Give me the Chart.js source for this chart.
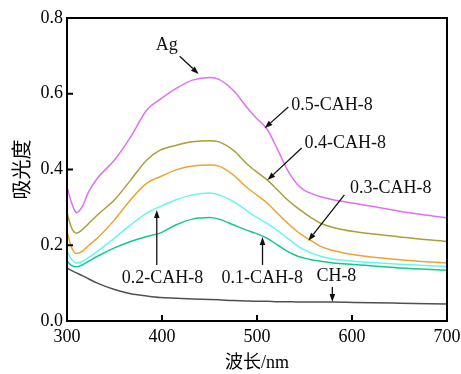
<!DOCTYPE html>
<html>
<head>
<meta charset="utf-8">
<script src="https://cdn.jsdelivr.net/npm/chart.js@4/dist/chart.umd.min.js"></script>
<style>
  html, body { margin: 0; padding: 0; background: #fff; }
  #wrap { width: 461px; height: 374px; }
</style>
</head>
<body>
<div id="wrap"><canvas id="cvs" width="461" height="374"></canvas></div>
<script>
'use strict';

// wavelength samples (nm)
const wavelengths = [300, 305, 310, 316, 323, 332, 350, 367, 384, 398, 415, 432, 450, 460, 475, 489, 498, 511, 522, 532, 543, 550, 557, 567, 580, 602, 650, 700];

// absorbance
const cah05 = [0.354, 0.311, 0.286, 0.302, 0.342, 0.377, 0.425, 0.486, 0.557, 0.585, 0.614, 0.636, 0.643, 0.638, 0.609, 0.565, 0.539, 0.505, 0.451, 0.399, 0.359, 0.345, 0.337, 0.328, 0.320, 0.311, 0.290, 0.272];
const cah04 = [0.285, 0.245, 0.232, 0.241, 0.258, 0.280, 0.320, 0.372, 0.425, 0.451, 0.464, 0.473, 0.476, 0.473, 0.451, 0.416, 0.397, 0.372, 0.345, 0.320, 0.298, 0.285, 0.273, 0.258, 0.247, 0.236, 0.222, 0.210];
const cah03 = [0.236, 0.193, 0.178, 0.184, 0.200, 0.219, 0.267, 0.320, 0.364, 0.381, 0.399, 0.409, 0.412, 0.409, 0.386, 0.353, 0.336, 0.311, 0.283, 0.259, 0.235, 0.223, 0.212, 0.197, 0.186, 0.175, 0.162, 0.153];
const cah02 = [0.184, 0.162, 0.153, 0.157, 0.168, 0.184, 0.219, 0.254, 0.285, 0.302, 0.320, 0.333, 0.338, 0.333, 0.316, 0.292, 0.276, 0.257, 0.238, 0.219, 0.198, 0.188, 0.180, 0.171, 0.164, 0.158, 0.150, 0.144];
const cah01 = [0.158, 0.146, 0.143, 0.148, 0.158, 0.171, 0.193, 0.210, 0.223, 0.232, 0.254, 0.269, 0.273, 0.269, 0.254, 0.240, 0.232, 0.218, 0.200, 0.184, 0.171, 0.166, 0.162, 0.158, 0.153, 0.149, 0.140, 0.134];
const ch8   = [0.140, 0.133, 0.127, 0.120, 0.111, 0.100, 0.083, 0.072, 0.066, 0.062, 0.060, 0.058, 0.057, 0.056, 0.054, 0.053, 0.052, 0.052, 0.051, 0.051, 0.050, 0.050, 0.050, 0.050, 0.050, 0.049, 0.047, 0.045];

const seriesNames = ['CH-8', '0.1-CAH-8', '0.2-CAH-8', '0.3-CAH-8', '0.4-CAH-8', '0.5-CAH-8'];
const seriesValues = [ch8, cah01, cah02, cah03, cah04, cah05];
const seriesColors = ['#505050', '#14c88c', '#66f5f5', '#eba530', '#a8a038', '#e070f0'];

const serif = '"Liberation Serif", "Times New Roman", "Noto Sans CJK SC", serif';

// callouts: text anchor and arrow, in data units (nm, absorbance)
const notes = [
    { text: 'Ag',        align: 'center', at: [405, 0.728], from: [418.6, 0.699], to: [438.6, 0.652] },
    { text: '0.5-CAH-8', align: 'left',   at: [536, 0.570], from: [533, 0.565],   to: [508, 0.509] },
    { text: '0.4-CAH-8', align: 'left',   at: [550, 0.470], from: [547, 0.457],   to: [511, 0.372] },
    { text: '0.3-CAH-8', align: 'left',   at: [598, 0.351], from: [592, 0.333],   to: [554, 0.212] },
    { text: '0.2-CAH-8', align: 'left',   at: [357.7, 0.114], from: [394.5, 0.148], to: [394.5, 0.293] },
    { text: '0.1-CAH-8', align: 'left',   at: [462.7, 0.114], from: [505.8, 0.148], to: [505.8, 0.222] },
    { text: 'CH-8',      align: 'left',   at: [562.5, 0.117], from: [579.3, 0.090], to: [579.3, 0.050] }
];

const arrow = (ctx, x1, y1, x2, y2) => {
    const ang = Math.atan2(y2 - y1, x2 - x1);
    const len = 8, half = 2.8;
    const bx = x2 - len * Math.cos(ang), by = y2 - len * Math.sin(ang);
    ctx.beginPath();
    ctx.moveTo(x1, y1);
    ctx.lineTo(bx, by);
    ctx.stroke();
    ctx.beginPath();
    ctx.moveTo(x2, y2);
    ctx.lineTo(bx + half * Math.sin(ang), by - half * Math.cos(ang));
    ctx.lineTo(bx - half * Math.sin(ang), by + half * Math.cos(ang));
    ctx.closePath();
    ctx.fill();
};

const framePlugin = {
    id: 'frame',
    afterDatasetsDraw(chart) {
        const { ctx, chartArea: a, scales } = chart;
        ctx.save();
        ctx.strokeStyle = '#000';
        ctx.lineWidth = 2;
        ctx.strokeRect(a.left, a.top, a.right - a.left, a.bottom - a.top);

        // inward ticks
        ctx.beginPath();
        scales.x.ticks.forEach(t => {
            const px = scales.x.getPixelForValue(t.value);
            ctx.moveTo(px, a.bottom);
            ctx.lineTo(px, a.bottom - 6);
        });
        scales.y.ticks.forEach(t => {
            const py = scales.y.getPixelForValue(t.value);
            ctx.moveTo(a.left, py);
            ctx.lineTo(a.left + 6, py);
        });
        ctx.stroke();

        // callouts
        ctx.fillStyle = '#111';
        ctx.strokeStyle = '#111';
        ctx.lineWidth = 1.3;
        ctx.font = '18px ' + serif;
        ctx.textBaseline = 'middle';
        notes.forEach(n => {
            ctx.textAlign = n.align;
            ctx.fillText(n.text, scales.x.getPixelForValue(n.at[0]), scales.y.getPixelForValue(n.at[1]));
            arrow(ctx,
                scales.x.getPixelForValue(n.from[0]), scales.y.getPixelForValue(n.from[1]),
                scales.x.getPixelForValue(n.to[0]), scales.y.getPixelForValue(n.to[1]));
        });
        ctx.restore();
    }
};

const datasets = seriesNames.map((name, i) => ({
    label: name,
    data: wavelengths.map((w, j) => ({ x: w, y: seriesValues[i][j] })),
    borderColor: seriesColors[i],
    borderWidth: 1.5,
    pointRadius: 0,
    cubicInterpolationMode: 'monotone',
    fill: false
}));

new Chart(document.getElementById('cvs'), {
    type: 'line',
    data: { datasets },
    options: {
        responsive: false,
        animation: false,
        devicePixelRatio: 1,
        layout: { padding: { top: 18, right: 14, bottom: 0, left: 0 } },
        plugins: {
            legend: { display: false },
            tooltip: { enabled: false }
        },
        scales: {
            x: {
                type: 'linear',
                min: 300,
                max: 700,
                afterFit: s => {
                    s.height = 53;
                    s.paddingLeft = 0;
                    s.paddingRight = 0;
                },
                grid: { display: false, drawTicks: false },
                border: { display: false },
                ticks: {
                    stepSize: 100,
                    padding: 5,
                    color: '#000',
                    maxRotation: 0,
                    font: { family: serif, size: 18 }
                },
                title: {
                    display: true,
                    text: '波长/nm',
                    color: '#000',
                    padding: { top: 0, bottom: 0 },
                    font: { family: serif, size: 18, lineHeight: 1.2 }
                }
            },
            y: {
                min: 0,
                max: 0.8,
                afterFit: s => {
                    s.width = 67;
                    s.paddingTop = 0;
                    s.paddingBottom = 0;
                },
                grid: { display: false, drawTicks: false },
                border: { display: false },
                ticks: {
                    stepSize: 0.2,
                    padding: 4,
                    color: '#000',
                    font: { family: serif, size: 18 },
                    callback: v => v.toFixed(1)
                },
                title: {
                    display: true,
                    text: '吸光度',
                    color: '#000',
                    padding: { top: 12, bottom: 0 },
                    font: { family: serif, size: 20, lineHeight: 1.2 }
                }
            }
        }
    },
    plugins: [framePlugin]
});
</script>
</body>
</html>
